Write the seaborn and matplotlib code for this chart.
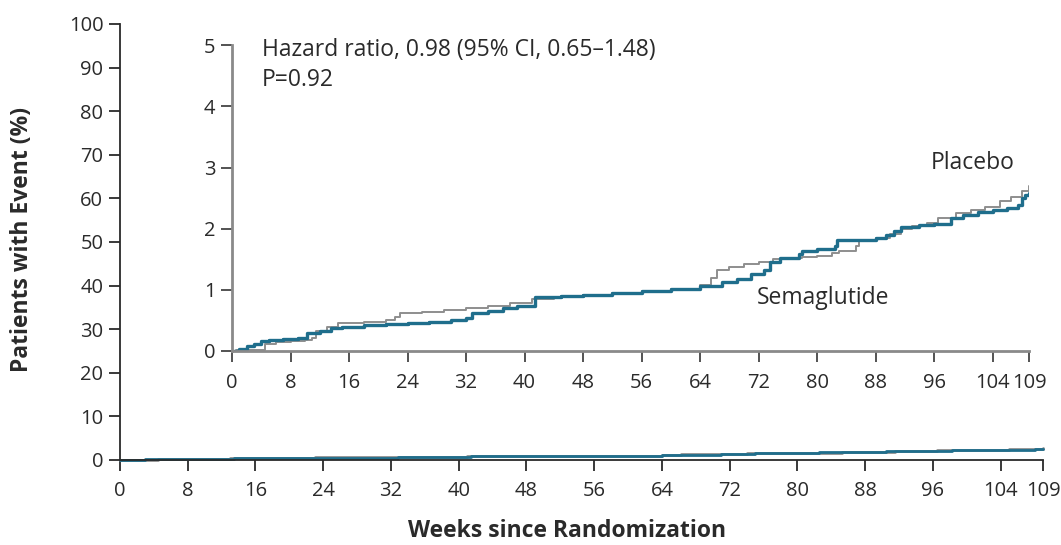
import numpy as np
import pandas as pd
import matplotlib
matplotlib.use("Agg")
import matplotlib.pyplot as plt
import seaborn as sns

# Cumulative incidence (%) by week, Kaplan-Meier style step curves
sema_weeks = [0, 1, 2, 3, 4, 5, 7, 9, 10.3, 12, 13.5, 15, 18, 21, 24, 27, 30, 32,
              32.8, 35, 37, 39, 41.5, 45, 48, 52, 56, 60, 64, 67, 69, 71, 72.8,
              73.6, 75, 77.5, 78, 80, 82.5, 82.8, 85, 88, 89.5, 90.5, 91.5, 94,
              96, 98.3, 100, 102, 104, 106, 107.5, 108, 108.5, 109]
sema_pct = [0, 0.04, 0.08, 0.12, 0.16, 0.18, 0.20, 0.22, 0.30, 0.33, 0.37, 0.40,
            0.42, 0.44, 0.46, 0.48, 0.51, 0.54, 0.62, 0.66, 0.70, 0.73, 0.88,
            0.90, 0.92, 0.95, 0.98, 1.02, 1.07, 1.12, 1.18, 1.26, 1.33, 1.45,
            1.52, 1.58, 1.64, 1.66, 1.72, 1.81, 1.82, 1.85, 1.90, 1.97, 2.03,
            2.06, 2.08, 2.18, 2.22, 2.27, 2.31, 2.34, 2.38, 2.50, 2.55, 2.58]

plac_weeks = [0, 0.5, 4.5, 6, 8, 10, 11, 11.5, 13, 14.5, 18, 21, 22.3, 23, 26, 29,
              32, 35, 38, 41, 44, 48, 52, 56, 60, 64, 65.5, 66.3, 68, 70, 72, 74,
              76, 78, 80, 82, 83, 85.3, 85.8, 88, 90, 91.5, 93, 95, 96.5, 99, 101,
              103, 105, 106.5, 108, 109]
plac_pct = [0, 0.01, 0.12, 0.14, 0.16, 0.18, 0.22, 0.32, 0.40, 0.46, 0.48, 0.50,
            0.56, 0.62, 0.64, 0.67, 0.70, 0.74, 0.78, 0.85, 0.89, 0.92, 0.95,
            0.98, 1.02, 1.08, 1.20, 1.33, 1.38, 1.42, 1.46, 1.50, 1.52, 1.54,
            1.56, 1.60, 1.63, 1.72, 1.82, 1.85, 1.92, 2.00, 2.05, 2.10, 2.18,
            2.25, 2.30, 2.36, 2.45, 2.52, 2.62, 2.70]

groups = ["Placebo", "Semaglutide"]
week_ticks = [0, 8, 16, 24, 32, 40, 48, 56, 64, 72, 80, 88, 96, 104, 109]
main_yticks = [0, 10, 20, 30, 40, 50, 60, 70, 80, 90, 100]
inset_yticks = [0, 1, 2, 3, 4, 5]

df = pd.concat([
    pd.DataFrame({"week": plac_weeks, "pct": plac_pct, "group": "Placebo"}),
    pd.DataFrame({"week": sema_weeks, "pct": sema_pct, "group": "Semaglutide"}),
], ignore_index=True)

sns.set_theme(style="ticks")
plt.rcParams["font.family"] = ["Open Sans", "DejaVu Sans"]
text_color = "#2a2a2a"
teal = "#1f6e8c"
gray = "#8e8e8e"
palette = {"Placebo": gray, "Semaglutide": teal}
tick_size = 14.5
note_size = 16.5
title_size = 16.5

fig = plt.figure(figsize=(10.61, 5.45), dpi=100)
fig.patch.set_facecolor("white")

# Main axes: full 0-100% scale
ax = fig.add_axes([0.1131, 0.156, 0.870, 0.800])
for g, lw in zip(groups, [2.0, 2.0]):
    sns.lineplot(data=df[df.group == g], x="week", y="pct", color=palette[g],
                 estimator=None, sort=False, drawstyle="steps-post",
                 linewidth=lw, ax=ax, legend=False, clip_on=False)
ax.set_xlim(0, 109)
ax.set_ylim(0, 100)
ax.set_xticks(week_ticks)
ax.set_xticklabels([str(t) for t in week_ticks])
ax.set_yticks(main_yticks)
ax.set_yticklabels([str(t) for t in main_yticks])
ax.set_xlabel("")
ax.set_ylabel("")
sns.despine(ax=ax)
for s in ["left", "bottom"]:
    ax.spines[s].set_color(text_color)
    ax.spines[s].set_linewidth(1.3)
ax.tick_params(axis="both", direction="out", length=8, width=1.3,
               color=text_color, labelcolor=text_color, labelsize=tick_size)
ax.tick_params(axis="x", pad=7)
ax.tick_params(axis="y", pad=4)

# Inset: zoomed 0-5% scale
axi = fig.add_axes([0.2187, 0.356, 0.7512, 0.561])
axi.patch.set_alpha(0)
for g, lw in zip(groups, [1.4, 2.4]):
    sns.lineplot(data=df[df.group == g], x="week", y="pct", color=palette[g],
                 estimator=None, sort=False, drawstyle="steps-post",
                 linewidth=lw, ax=axi, legend=False)
axi.set_xlim(0, 109)
axi.set_ylim(0, 5)
axi.set_xticks(week_ticks)
axi.set_xticklabels([str(t) for t in week_ticks])
axi.set_yticks(inset_yticks)
axi.set_yticklabels([str(t) for t in inset_yticks])
axi.set_xlabel("")
axi.set_ylabel("")
sns.despine(ax=axi)
for s in ["left", "bottom"]:
    axi.spines[s].set_color("#8a8a8a")
    axi.spines[s].set_linewidth(2.0)
axi.tick_params(axis="both", direction="out", length=8, width=1.3,
                color="#444444", labelcolor=text_color, labelsize=tick_size)
axi.tick_params(axis="x", pad=8)
axi.tick_params(axis="y", pad=4)

axi.text(4.1, 4.93, "Hazard ratio, 0.98 (95% CI, 0.65\u20131.48)", ha="left",
         va="center", fontsize=note_size, color=text_color)
axi.text(4.1, 4.43, "P=0.92", ha="left", va="center", fontsize=note_size,
         color=text_color)
axi.text(101.3, 3.07, "Placebo", ha="center", va="center", fontsize=note_size,
         color=text_color)
axi.text(80.8, 0.86, "Semaglutide", ha="center", va="center",
         fontsize=note_size, color=text_color)

fig.text(0.534, 0.026, "Weeks since Randomization", ha="center", va="center",
         fontsize=title_size, fontweight="bold", color=text_color)
fig.text(0.021, 0.56, "Patients with Event (%)", ha="center", va="center",
         rotation=90, fontsize=title_size, fontweight="bold", color=text_color)

fig.savefig("out.png", dpi=100, facecolor="white")
